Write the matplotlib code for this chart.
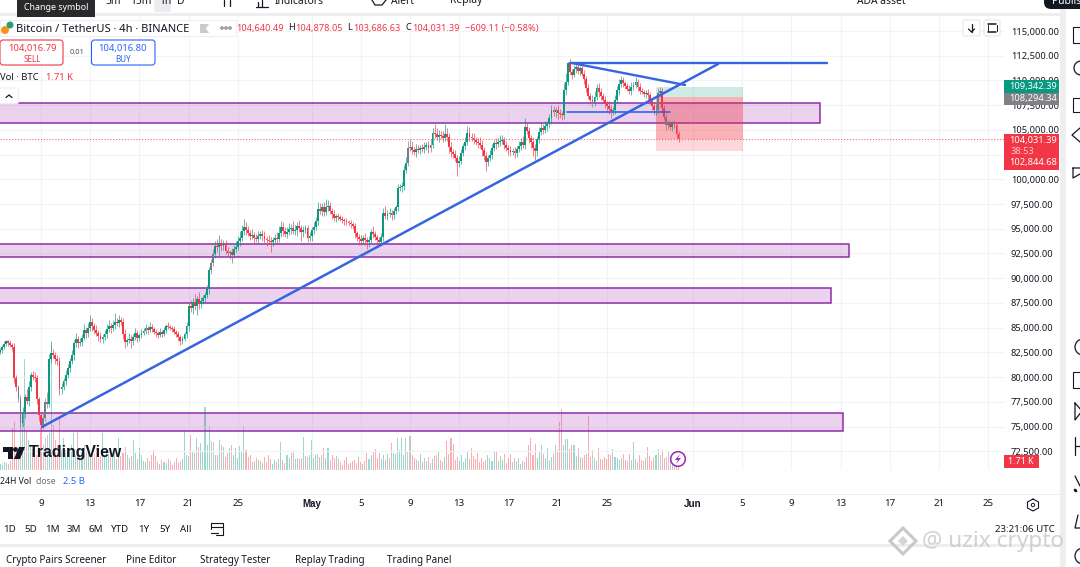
"""BTC/USDT 4h TradingView screenshot, rebuilt with matplotlib."""
import numpy as np
import matplotlib
matplotlib.use("Agg")
import matplotlib.pyplot as plt
from matplotlib.patches import Rectangle, FancyBboxPatch, Polygon, Circle

plt.rcParams["font.family"] = ["Noto Sans", "DejaVu Sans"]

W, H = 1080, 567
UP, DOWN, GREY = "#089981", "#f23645", "#787b86"
BLUE = "#3565e0"
PURPLE = "#8e2ea6"
TXT = "#131722"

# closes in thousand USD, one 4h candle each, ten per row
CLOSE = [
    82.7, 83.0, 83.3, 83.6, 83.4, 83.2, 83.0, 79.9, 79.0, 77.8,
    75.4, 76.5, 78.0, 77.6, 79.0, 80.2, 80.0, 79.9, 77.8, 76.2,
    75.2, 75.9, 77.5, 77.3, 81.8, 82.4, 82.2, 81.8, 81.6, 78.8,
    79.0, 79.6, 80.2, 80.9, 81.6, 82.2, 83.4, 83.9, 83.4, 83.5,
    84.0, 84.8, 84.5, 85.0, 85.6, 85.2, 84.8, 84.5, 84.2, 83.9,
    84.1, 84.4, 84.9, 85.2, 85.0, 85.3, 85.6, 85.5, 85.8, 85.6,
    84.4, 83.5, 83.7, 83.9, 83.6, 84.1, 84.5, 84.0, 84.3, 84.5,
    84.7, 85.0, 84.8, 85.1, 84.9, 84.6, 84.5, 84.3, 84.6, 84.4,
    84.8, 85.2, 85.1, 85.0, 84.9, 84.6, 84.4, 84.1, 83.6, 83.9,
    84.4, 85.2, 87.2, 87.0, 87.6, 87.2, 87.9, 87.4, 87.7, 88.0,
    88.3, 88.9, 90.8, 91.5, 92.4, 93.3, 93.2, 93.6, 93.3, 93.4,
    92.8, 92.5, 92.6, 92.3, 93.0, 93.2, 93.8, 94.1, 94.8, 95.2,
    94.9, 94.6, 94.3, 94.4, 94.1, 94.0, 94.3, 94.5, 94.3, 94.0,
    93.9, 93.8, 93.7, 93.9, 94.1, 94.0, 94.6, 95.2, 94.8, 94.5,
    94.7, 95.0, 95.1, 94.8, 94.9, 95.3, 95.1, 94.7, 94.9, 95.1,
    94.1, 94.3, 94.9, 95.2, 95.8, 97.0, 96.8, 97.2, 96.7, 97.2,
    97.3, 96.8, 96.5, 96.1, 96.3, 96.2, 96.0, 95.9, 95.8, 95.7,
    95.6, 95.5, 95.3, 94.6, 94.2, 94.0, 93.8, 94.1, 93.9, 93.7,
    93.9, 94.7, 94.5, 94.2, 93.9, 93.7, 94.2, 96.6, 96.3, 96.5,
    96.6, 96.4, 96.8, 97.2, 99.1, 99.2, 99.3, 100.9, 101.7, 103.2,
    103.3, 103.0, 102.8, 103.1, 103.0, 103.2, 103.1, 103.3, 103.5, 103.2,
    103.5, 104.7, 104.6, 104.3, 104.5, 104.4, 104.2, 104.6, 104.3, 103.3,
    102.8, 102.6, 102.2, 101.7, 101.9, 102.7, 103.4, 103.8, 104.7, 104.3,
    104.2, 104.0, 103.8, 103.7, 103.5, 103.0, 102.4, 101.8, 102.2, 102.5,
    103.2, 103.7, 103.6, 103.8, 103.9, 104.0, 103.5, 103.2, 103.0, 102.8,
    102.9, 102.7, 103.1, 103.4, 103.8, 103.5, 105.3, 104.9, 104.2, 103.8,
    103.2, 102.9, 104.1, 104.8, 105.2, 105.0, 105.4, 105.6, 106.2, 107.0,
    106.8, 107.0, 106.7, 106.6, 106.5, 109.0, 109.8, 111.8, 110.9, 110.6,
    111.2, 111.4, 111.0, 111.3, 110.7, 110.1, 109.2, 108.4, 108.0, 107.8,
    108.3, 109.2, 108.8, 108.4, 108.0, 107.6, 107.4, 107.1, 106.9, 107.0,
    108.0, 109.0, 109.6, 110.0, 109.7, 109.4, 109.1, 108.9, 109.3, 109.5,
    109.8, 109.3, 108.9, 108.8, 108.6, 108.7, 108.5, 107.9, 107.4, 107.0,
    107.0, 108.7, 108.9, 107.2, 106.3, 105.5, 105.6, 105.3, 105.7, 105.5,
    104.6, 104.03,
]
# wick above the body, thousand USD
WICK_UP = [
    .2, .2, .3, .2, .2, .3, .2, .4, .3, .2,
    .4, .5, .3, .8, .6, .3, .4, .5, .3, .2,
    .3, .6, .4, 1.0, .5, 1.2, .4, .3, .4, .4,
    .4, .3, .5, .4, .3, .5, .4, .6, .3, .5,
    .4, .6, .3, .5, .7, .4, .3, .5, .3, .4,
    .3, .4, .5, .6, .3, .5, .9, .4, .5, .3,
    .4, .5, .3, .6, .4, .3, .5, .3, .2, .4,
    .3, .4, .2, .5, .3, .2, .3, .2, .4, .2,
    .3, .2, .4, .2, .2, .3, .2, .3, .2, .3,
    .2, .4, .3, .6, .4, .8, .3, .7, .4, .3,
    .3, .4, .3, .4, .6, .5, .7, .8, .4, .5,
    .5, .4, .3, .5, .4, .6, .5, .7, .6, .8,
    .5, .4, .3, .6, .3, .4, .5, .3, .4, .5,
    .3, .5, .4, .3, .4, .6, .7, .6, .5, .4,
    .5, .6, .4, .7, .5, .4, .6, .3, .4, .3,
    .3, .4, .3, .5, .4, .7, .6, .4, .5, .8,
    .6, .4, .3, .4, .2, .3, .2, .3, .2, .3,
    .2, .3, .2, .3, .2, .3, .4, .3, .5, .3,
    .4, .3, .6, .3, .2, .3, .4, .5, .7, .4,
    .5, .3, .3, .2, .4, .3, .4, .5, .6, .7,
    .8, .6, .3, .5, .4, .3, .4, .5, .3, .4,
    .6, .5, .9, .6, .5, .4, .5, 1.0, .6, .4,
    .5, .3, .4, .3, .5, .4, .3, .5, .7, .6,
    .4, .5, .3, .4, .6, .5, .3, .4, .3, .5,
    .4, .3, .5, .4, .6, .5, .3, .4, .3, .4,
    .3, .4, .3, .5, .4, .6, .9, .5, .4, .3,
    .5, .4, .3, .5, .6, .4, .5, .3, .4, .5,
    .4, .3, .5, .4, .3, .7, 1.0, .1, .4, .3,
    .4, .3, .4, .2, .3, .4, .3, .4, .3, .5,
    .6, .4, .5, .4, .3, .4, .3, .5, .4, .3,
    .5, .4, .5, .4, .3, .2, .3, .4, .5, .3,
    .5, .3, .4, .3, .2, .3, .4, .3, .2, .3,
    .6, .5, .4, .3, .3, .3, .4, .3, .2, .3,
    .2, .25,
]
# wick below the body, thousand USD
WICK_DOWN = [
    .2, .3, .2, .2, .3, .2, .4, .5, .4, .3,
    .5, .4, .6, .3, .5, .4, .3, .4, .5, .6,
    .4, .5, .3, .4, .3, .4, .3, .5, .4, .6,
    .5, .3, .4, .3, .4, .3, .5, .4, .5, .3,
    .4, .3, .5, .4, .3, .5, .4, .3, .6, .4,
    .5, .3, .4, .3, .5, .3, .4, .3, .4, .3,
    .5, .6, .4, .3, .7, .4, .3, .5, .4, .3,
    .2, .3, .4, .2, .3, .2, .4, .3, .2, .3,
    .2, .3, .2, .2, .3, .2, .3, .5, .4, .3,
    .3, .4, .5, .4, .6, .4, .9, .5, .4, .3,
    .4, .3, .5, .4, .3, .4, .6, 1.0, .5, .4,
    .4, .3, .6, .8, .3, .4, .3, .5, .3, .4,
    .5, .3, .4, .3, .5, .3, .4, .3, .5, .4,
    .6, .3, 1.0, .4, .3, .5, .3, .4, .5, .3,
    .4, .3, .5, .3, .4, .6, .4, .9, .5, .3,
    .4, .3, .5, .4, .3, .4, .3, .5, .4, .3,
    .4, .3, .5, .3, .4, .3, .2, .3, .4, .3,
    .3, .4, .3, .5, .4, .6, .4, .3, .5, .7,
    .5, .3, .4, .3, .5, .4, .3, .4, .3, .4,
    .3, .5, .4, .3, .4, .3, .5, .4, .3, .4,
    .3, .4, .3, .5, .3, .4, .3, .4, .3, .5,
    .4, .3, .4, .3, .5, .3, .4, .3, .4, .6,
    .5, .4, .3, 1.4, .5, .4, .3, .4, .3, .4,
    .3, .4, .3, .5, .3, .6, .4, 1.0, .5, .3,
    .4, .3, .5, .3, .4, .3, .4, .3, .5, .4,
    .3, .5, .4, .3, .4, .3, .4, .3, .5, .6,
    .8, .9, .5, .4, .3, .4, .3, .5, .4, .6,
    .4, .5, .6, .4, .5, .4, .5, .3, .4, .5,
    .3, .4, .3, .4, .3, .5, .4, .3, .4, .5,
    .4, .3, .5, .4, .3, .4, .6, .5, .7, .4,
    .4, .3, .5, .3, .4, .3, .2, .3, .4, .3,
    .3, .4, .3, .2, .3, .4, .5, .3, .4, .5,
    .5, .3, .4, .5, .3, .5, .4, .3, .4, .3,
    .4, .3,
]
# volume, thousand BTC
VOLUME = [
    1.2, 1.0, 1.6, 1.4, 1.2, 1.8, 8.4, 9.6, 4.0, 3.4,
    12.0, 10.0, 22.2, 8.0, 6.0, 5.0, 4.2, 3.6, 3.0, 5.0,
    8.4, 5.0, 6.4, 7.0, 7.4, 25.0, 9.0, 6.0, 5.0, 10.4,
    4.0, 6.4, 4.0, 3.6, 4.4, 5.0, 7.4, 3.0, 8.0, 3.0,
    4.2, 5.0, 3.6, 4.0, 2.6, 3.8, 3.2, 4.4, 2.4, 2.8,
    7.4, 3.0, 4.4, 3.2, 2.6, 3.0, 3.8, 2.2, 6.4, 2.8,
    3.4, 4.6, 3.0, 2.4, 2.8, 6.0, 3.4, 2.2, 4.4, 3.0,
    1.8, 1.6, 2.4, 1.8, 3.0, 4.0, 2.8, 1.6, 1.2, 2.0,
    1.6, 1.4, 2.2, 1.8, 1.0, 1.6, 2.4, 1.4, 1.8, 2.2,
    7.8, 3.0, 2.8, 7.0, 3.8, 3.4, 6.4, 4.6, 5.4, 3.6,
    12.6, 5.0, 8.8, 5.8, 5.6, 3.0, 3.0, 6.0, 5.0, 4.6,
    2.6, 3.4, 4.4, 5.0, 3.0, 4.4, 2.4, 4.8, 3.8, 8.8,
    4.0, 2.6, 3.0, 1.6, 1.8, 2.4, 2.0, 1.8, 1.4, 2.6,
    1.6, 3.0, 2.2, 1.2, 2.0, 1.6, 2.2, 5.6, 2.0, 1.4,
    3.0, 2.4, 3.4, 3.8, 2.2, 2.4, 2.2, 2.4, 6.6, 2.8,
    2.6, 3.0, 6.0, 2.4, 3.0, 3.2, 2.6, 3.0, 4.4, 2.4,
    4.4, 2.0, 3.0, 2.4, 2.8, 2.2, 1.6, 1.0, 2.0, 2.6,
    1.2, 1.4, 1.8, 2.0, 1.4, 2.6, 1.6, 1.2, 1.8, 3.4,
    2.2, 3.0, 3.6, 4.2, 2.4, 3.4, 2.2, 3.0, 2.0, 3.2,
    2.4, 5.4, 3.4, 3.2, 6.4, 4.0, 6.4, 3.0, 6.4, 3.6,
    6.8, 3.0, 2.4, 2.0, 1.8, 3.2, 1.6, 2.4, 1.8, 2.6,
    1.4, 2.2, 2.8, 3.0, 3.8, 2.0, 1.6, 2.6, 5.8, 3.2,
    6.4, 5.2, 2.0, 2.6, 1.8, 3.0, 1.6, 2.4, 3.6, 2.2,
    4.4, 2.8, 2.2, 3.4, 1.6, 2.4, 1.6, 2.0, 3.0, 2.4,
    1.8, 3.6, 3.6, 1.8, 2.8, 2.0, 3.2, 1.4, 2.4, 3.2,
    1.6, 2.4, 1.8, 2.4, 1.2, 1.8, 1.6, 2.6, 5.0, 6.4,
    3.0, 5.2, 2.4, 3.6, 5.0, 3.2, 2.4, 4.4, 2.0, 2.6,
    3.2, 5.0, 4.0, 9.6, 12.2, 5.0, 6.2, 6.2, 4.2, 5.0,
    5.0, 2.8, 4.4, 2.6, 2.4, 3.0, 3.2, 10.8, 2.6, 4.0,
    2.4, 1.8, 4.4, 2.2, 2.0, 2.6, 2.2, 3.2, 3.0, 4.2,
    2.6, 2.4, 2.0, 2.4, 3.2, 2.0, 1.8, 3.2, 2.0, 5.6,
    2.2, 1.6, 3.0, 2.0, 1.8, 2.4, 4.6, 2.8, 1.8, 2.4,
    3.0, 4.2, 3.0, 4.0, 2.4, 2.6, 3.8, 2.0, 2.6, 2.2,
    2.4, 1.71,
]
GREY_BARS = [9, 10, 21, 22, 23, 103, 104, 199, 200, 210, 289, 321, 322, 325, 326]
FIRST_OPEN = 82.5

# days after 9 April
TICK_DAYS = [0, 4, 8, 12, 16, 22, 26, 30, 34, 38, 42, 46, 53, 57, 61, 65, 69, 73, 77]
TICK_LABELS = ["9", "13", "17", "21", "25", "May", "5", "9", "13", "17", "21", "25",
               "Jun", "5", "9", "13", "17", "21", "25"]
PRICE_TICKS = [72500, 75000, 77500, 80000, 82500, 85000, 87500, 90000, 92500, 95000,
               97500, 100000, 102500, 105000, 107500, 110000, 112500, 115000]

ZONE_HIGH = [107720, 93470, 89000, 76400]
ZONE_LOW = [105700, 92150, 87500, 74560]
ZONE_END = [63.33, 65.7, 64.2, 65.2]

# drawn lines: (day, price) pairs
TREND_DAYS, TREND_PRICES = [0.08, 55.04], [74960, 111660]
TOP_DAYS, TOP_PRICES = [43.0, 63.9], [111760, 111760]
FALL_DAYS, FALL_PRICES = [43.17, 52.36], [111760, 109540]
SHELF_DAYS, SHELF_PRICES = [42.76, 51.14], [106800, 106800]

POS_START, POS_END = 50.0, 57.07
TP, ENTRY, SL, LAST = 109342.39, 108294.34, 102844.68, 104031.39

PX_PER_DAY = 12.3
DAY0_PX = 41.0
PX_PER_USD = 24.72 / 2500
PLOT_L, PLOT_R, PLOT_T, PLOT_B = 0, 1005, 15, 470


def px_day(px):
    return (px - DAY0_PX) / PX_PER_DAY


def px_price(py):
    return 115000 - (py - 31) / PX_PER_USD


fig = plt.figure(figsize=(W / 100, H / 100), dpi=100, facecolor="white")
pos = [PLOT_L / W, 1 - PLOT_B / H, (PLOT_R - PLOT_L) / W, (PLOT_B - PLOT_T) / H]

# volume sits under the price pane, same box
ax_v = fig.add_axes(pos, zorder=1)
ax = fig.add_axes(pos, zorder=2)
ax.patch.set_visible(False)

close = np.array(CLOSE) * 1000
opens = np.r_[FIRST_OPEN * 1000, close[:-1]]
high = np.maximum(opens, close) + np.array(WICK_UP) * 1000
low = np.minimum(opens, close) - np.array(WICK_DOWN) * 1000
days = (np.arange(len(close)) - 20) / 6
colors = np.where(close >= opens, UP, DOWN)
colors[GREY_BARS] = GREY

ax_v.bar(days, VOLUME, width=0.085, color=colors, alpha=0.4, linewidth=0)
ax_v.set_xlim(px_day(PLOT_L), px_day(PLOT_R))
ax_v.set_ylim(0, (PLOT_B - PLOT_T) * 0.2)
ax_v.set_xticks(TICK_DAYS)
ax_v.set_yticks([])
ax_v.grid(axis="x", color="#f2f3f6", lw=0.8)
ax_v.set_axisbelow(True)
ax_v.tick_params(length=0, labelbottom=False)
for s in ax_v.spines.values():
    s.set_visible(False)

for top, bot, end in zip(ZONE_HIGH, ZONE_LOW, ZONE_END):
    ax.add_patch(Rectangle((px_day(-5), bot), end - px_day(-5), top - bot, fc=(0.61, 0.15, 0.69, 0.2),
                           ec=PURPLE, lw=1.1, zorder=2))

ax.add_patch(Rectangle((POS_START, ENTRY), POS_END - POS_START, TP - ENTRY, fc=UP, alpha=0.2, lw=0, zorder=3))
ax.add_patch(Rectangle((POS_START, SL), POS_END - POS_START, ENTRY - SL, fc=DOWN, alpha=0.2, lw=0, zorder=3))
ax.add_patch(Rectangle((POS_START, LAST), POS_END - POS_START, ENTRY - LAST, fc=DOWN, alpha=0.22, lw=0, zorder=3))
ax.axhline(LAST, color=DOWN, lw=0.8, ls=(0, (1, 1.6)), alpha=0.75, zorder=3)

ax.vlines(days, low, high, colors=colors, lw=0.7, alpha=0.65, zorder=4)
ax.bar(days, np.abs(close - opens), bottom=np.minimum(opens, close), width=0.15, color=colors,
       linewidth=0, zorder=5)

for xs, ys, lw in [(TREND_DAYS, TREND_PRICES, 1.8), (TOP_DAYS, TOP_PRICES, 1.7),
                   (FALL_DAYS, FALL_PRICES, 1.7), (SHELF_DAYS, SHELF_PRICES, 1.2)]:
    ax.plot(xs, ys, color=BLUE, lw=lw, solid_capstyle="round", zorder=6)

ax.set_xlim(px_day(PLOT_L), px_day(PLOT_R))
ax.set_ylim(px_price(PLOT_B), px_price(PLOT_T))
ax.set_xticks(TICK_DAYS, TICK_LABELS)
ax.set_yticks(PRICE_TICKS, [f"{p:,.2f}" for p in PRICE_TICKS])
ax.yaxis.tick_right()
ax.tick_params(axis="y", length=0, pad=4.2, labelsize=6.7, labelcolor=TXT)
ax.tick_params(axis="x", length=0, pad=21, labelsize=7.0, labelcolor=TXT)
for lab in ax.get_xticklabels():
    if lab.get_text() in ("May", "Jun"):
        lab.set_family("Liberation Sans")
        lab.set_fontweight("bold")
ax.grid(axis="y", color="#f2f3f6", lw=0.8)
ax.set_axisbelow(True)
for s in ax.spines.values():
    s.set_visible(False)

# screen furniture, in pixels
ui = fig.add_axes([0, 0, 1, 1], zorder=10)
ui.set_xlim(0, W)
ui.set_ylim(H, 0)
ui.axis("off")


def label(x, y, s, size=7.6, color=TXT, ha="left", **kw):
    ui.text(x, y, s, fontsize=size, color=color, ha=ha, va="center", **kw)


def box(x0, y0, x1, y1, fc="white", ec="none", lw=0.8, round_px=0):
    if round_px:
        ui.add_patch(FancyBboxPatch((x0, y0), x1 - x0, y1 - y0, boxstyle=f"round,pad=0,rounding_size={round_px}",
                                    fc=fc, ec=ec, lw=lw))
    else:
        ui.add_patch(Rectangle((x0, y0), x1 - x0, y1 - y0, fc=fc, ec=ec, lw=lw))


def outline(points, lw=0.9, color=TXT):
    xs, ys = zip(*points)
    ui.plot(xs, ys, color=color, lw=lw, solid_capstyle="round")


# frame strips
box(0, 0, W, 14, fc="white")
box(0, 12.5, 1063, 15.5, fc="#eeeef0")
box(1060, 0, 1066, H, fc="#eeeef0")
box(0, 494, 1060, 495, fc="#eeeef0")
box(0, 544, 1060, 547, fc="#eeeef0")

# top toolbar, cut off by the screenshot
box(154, 0, 171, 12, fc="#ececee", round_px=2)
for x, s in [(105, "5m"), (130, "15m"), (159, "1h"), (177, "D"), (275, "Indicators"),
             (391, "Alert"), (450, "Replay"), (857, "ADA asset")]:
    label(x, 1, s, size=7.4)
outline([(224, 0), (224, 6)])
outline([(230, 0), (230, 6)])
outline([(256, 7), (268, 7)])
outline([(258, 7), (258, 2)])
outline([(262, 7), (262, 0)])
outline([(372, 0), (375, 5), (382, 5), (386, 0)])
box(1044, -8, 1090, 9, fc="#131722", round_px=7)
label(1052, 1, "Publish", size=7.4, color="white")

# tooltip and symbol line
box(17, 0, 95, 17, fc="#2a2a2c")
label(56, 8, "Change symbol", size=6.4, color="white", ha="center")
box(0, 20, 236, 36, fc="white", ec="#efeff1")
ui.add_patch(Circle((5, 30), 4, fc="#f7931a", ec="none"))
ui.add_patch(Circle((10, 25), 3.5, fc="#26a17b", ec="none"))
label(16.5, 29, "Bitcoin / TetherUS · 4h · BINANCE", size=8.0)
ui.add_patch(Polygon([(200, 24), (209, 24), (206, 28.5), (209, 33), (200, 33)], fc="#c9cacd", ec="none"))
for cx in (222, 226, 230):
    ui.add_patch(Circle((cx, 28), 1.2, fc="none", ec="#50535e", lw=0.6))
for x, s, c in [(236, "104,640.49", DOWN), (288, "H", TXT), (295, "104,878.05", DOWN),
                (347, "L", TXT), (353, "103,686.63", DOWN), (406, "C", TXT),
                (412, "104,031.39", DOWN), (465, "−609.11 (−0.58%)", DOWN)]:
    label(x, 28, s, size=6.6, color=c)

# sell and buy chips
box(0, 40, 63, 65, ec=DOWN, round_px=3)
label(32, 48, "104,016.79", size=6.8, color=DOWN, ha="center")
label(32, 59, "SELL", size=5.8, color=DOWN, ha="center")
label(77, 52, "0.01", size=5.4, color="#50535e", ha="center")
box(91.5, 40, 155, 65, ec="#2962ff", round_px=3)
label(123, 48, "104,016.80", size=6.8, color="#2962ff", ha="center")
label(123, 59, "BUY", size=5.8, color="#2962ff", ha="center")
label(0, 77.5, "Vol · BTC", size=6.8)
label(46, 77.5, "1.71 K", size=6.8, color=DOWN)
box(-2, 88, 18.5, 103.5, ec="#efeff1", round_px=2)
outline([(6, 97.5), (9, 95), (12, 97.5)])

# chart top right buttons
box(963, 20, 980, 36, ec="#e6e6e8", round_px=2)
outline([(971.5, 24), (971.5, 32)])
outline([(968.5, 29), (971.5, 32), (974.5, 29)])
box(984, 20, 1000, 36, ec="#e6e6e8", round_px=2)
outline([(988, 24), (996, 24)], lw=1.1)
outline([(988, 32), (996, 32)], lw=1.1)
outline([(987.5, 25), (987.5, 31)], lw=0.7)
outline([(996.5, 25), (996.5, 31)], lw=0.7)

# price tags
box(1004, 80, 1059, 92.5, fc="#089981")
label(1033, 86, "109,342.39", size=6.7, color="white", ha="center")
box(1004, 92.5, 1059, 105, fc="#808184")
label(1033, 98.5, "108,294.34", size=6.7, color="white", ha="center")
box(1004, 134, 1059, 170, fc="#f23645")
label(1033, 140.5, "104,031.39", size=6.7, color="white", ha="center")
label(1011, 151, "38:53", size=6.6, color="#ffc9ce")
label(1033, 163, "102,844.68", size=6.7, color="white", ha="center")
box(1004, 455, 1039, 467.5, fc="#f23645")
label(1021, 461, "1.71 K", size=6.4, color="white", ha="center")

# TradingView mark, bolt badge
ui.add_patch(Polygon([(3, 447), (13, 447), (13, 459), (8, 459), (8, 452), (3, 452)], fc=TXT, ec="none"))
ui.add_patch(Circle((15.5, 449.5), 2.4, fc=TXT, ec="none"))
ui.add_patch(Polygon([(19, 447), (25, 447), (20, 459), (14, 459)], fc=TXT, ec="none"))
label(29, 453, "TradingView", size=11.4, fontweight="bold", family="Liberation Sans")
ui.add_patch(Circle((678, 459), 7.3, fc="white", ec="#9c27b0", lw=1.1))
ui.add_patch(Polygon([(680, 454), (675, 460), (678, 460), (676, 464), (681, 458), (678, 458)],
                     fc="#9c27b0", ec="none"))

label(0, 481, "24H Vol", size=6.2)
label(35, 481, "close", size=6.2, color="#6a6d78")
label(63, 481, "2.5 B", size=6.8, color="#2962ff")

# hexagon for settings
outline([(1033, 499), (1038.5, 502), (1038.5, 508), (1033, 511), (1027.5, 508), (1027.5, 502), (1033, 499)], lw=0.8)
ui.add_patch(Circle((1033, 505), 1.7, fc="none", ec=TXT, lw=0.7))

# range buttons
for x, s in [(10, "1D"), (31, "5D"), (52, "1M"), (74, "3M"), (96, "6M"), (120, "YTD"),
             (144, "1Y"), (165, "5Y"), (186, "All")]:
    label(x, 529, s, size=7.0, ha="center")
outline([(211, 523), (223, 523), (223, 535), (216, 535)], lw=0.8)
outline([(211, 523), (211, 529)], lw=0.8)
outline([(211, 533), (218, 533)], lw=0.8)
outline([(211, 526.5), (223, 526.5)], lw=0.8)
label(1055, 529, "23:21:06 UTC", size=7.0, ha="right")

# bottom tabs
for x, s in [(6, "Crypto Pairs Screener"), (126, "Pine Editor"), (200, "Strategy Tester"),
             (295, "Replay Trading"), (387, "Trading Panel")]:
    label(x, 560.5, s, size=7.1)

# right sidebar icons, rough outlines
box(1073, 27, 1085, 43, ec=TXT)
ui.add_patch(Circle((1081, 68), 7, fc="none", ec=TXT, lw=0.9))
box(1073, 98, 1085, 112, ec=TXT)
outline([(1080, 128), (1072, 135), (1080, 142)])
outline([(1073, 168), (1073, 178), (1080, 174), (1087, 178), (1087, 168), (1073, 168)])
ui.add_patch(Circle((1083, 347), 8, fc="none", ec=TXT, lw=0.9))
box(1073, 372, 1085, 388, ec=TXT)
outline([(1075, 403), (1075, 420), (1082, 411), (1075, 403)])
outline([(1075, 437), (1075, 455)])
outline([(1075, 446), (1085, 446)])
outline([(1075, 476), (1080, 486)])
outline([(1075, 490), (1076, 491)], lw=2)
outline([(1078, 515), (1075, 528), (1085, 528)])
ui.add_patch(Circle((1083, 556), 8, fc="none", ec=TXT, lw=0.9))

# watermark
ui.add_patch(Polygon([(903, 528), (916, 541), (903, 554), (890, 541)], fc="none", ec="#c9c9cb", lw=2.2))
ui.add_patch(Polygon([(903, 536), (908, 541), (903, 546), (898, 541)], fc="#d5d5d7", ec="none"))
label(922, 541, "@ uzix crypto", size=16.3, color="#c4c4c6", alpha=0.75)

fig.savefig("out.png", dpi=100)
